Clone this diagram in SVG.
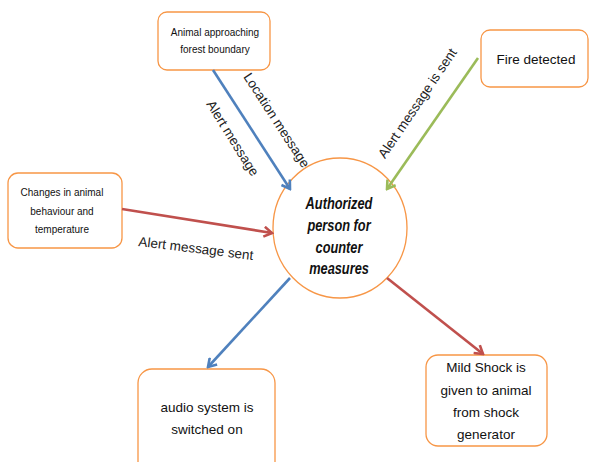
<svg xmlns="http://www.w3.org/2000/svg" width="591" height="462" viewBox="0 0 591 462">
<style>
.box{fill:#fff;stroke:#F79646;stroke-width:1.3}
.t{font-family:"Liberation Sans",Arial,sans-serif;fill:#111;text-anchor:middle}
.s{font-size:10px}
.m{font-size:13.5px}
.ct{font-family:"Liberation Sans",Arial,sans-serif;font-size:16px;font-weight:bold;font-style:italic;fill:#111;text-anchor:middle}
.lbl{font-family:"Liberation Sans",Arial,sans-serif;fill:#222;font-size:13.5px;text-anchor:middle}
.c{fill:none;stroke-width:2.6}
.b{stroke:#4F81BD}.r{stroke:#C0504D}.g{stroke:#9BBB59}
</style>
<defs>
<marker id="ab" viewBox="0 0 12 12" refX="10" refY="6" markerWidth="12" markerHeight="12" markerUnits="userSpaceOnUse" orient="auto"><polyline points="2,1 10,6 2,11" fill="none" stroke="#4F81BD" stroke-width="2.6"/></marker>
<marker id="ar" viewBox="0 0 12 12" refX="10" refY="6" markerWidth="12" markerHeight="12" markerUnits="userSpaceOnUse" orient="auto"><polyline points="2,1 10,6 2,11" fill="none" stroke="#C0504D" stroke-width="2.6"/></marker>
<marker id="ag" viewBox="0 0 12 12" refX="10" refY="6" markerWidth="12" markerHeight="12" markerUnits="userSpaceOnUse" orient="auto"><polyline points="2,1 10,6 2,11" fill="none" stroke="#9BBB59" stroke-width="2.6"/></marker>
</defs>
<rect width="591" height="462" fill="#fff"/>
<g id="n-animal">
<rect class="box" x="158" y="12" width="112" height="58" rx="9"/>
<text class="t s" x="215" y="36">Animal approaching</text>
<text class="t s" x="215" y="53">forest boundary</text>
</g>
<g id="n-changes">
<rect class="box" x="8" y="173" width="114" height="75" rx="10"/>
<text class="t s" x="62" y="196">Changes in animal</text>
<text class="t s" x="62" y="215">behaviour and</text>
<text class="t s" x="62" y="233">temperature</text>
</g>
<g id="n-fire">
<rect class="box" x="481" y="30" width="107" height="57" rx="9"/>
<text class="t m" x="536" y="64">Fire detected</text>
</g>
<g id="n-center">
<ellipse fill="#fff" stroke="#F79646" stroke-width="1.3" cx="340" cy="228" rx="67" ry="70"/>
<text class="ct" transform="translate(339,209) scale(0.8,1)">Authorized</text>
<text class="ct" transform="translate(339,231) scale(0.8,1)">person for</text>
<text class="ct" transform="translate(339,253) scale(0.8,1)">counter</text>
<text class="ct" transform="translate(339,274) scale(0.8,1)">measures</text>
</g>
<g id="n-audio">
<rect class="box" x="138" y="369" width="137" height="110" rx="14"/>
<text class="t m" x="207" y="412">audio system is</text>
<text class="t m" x="207" y="434">switched on</text>
</g>
<g id="n-shock">
<rect class="box" x="426" y="355" width="121" height="91" rx="12"/>
<text class="t m" x="486" y="372">Mild Shock is</text>
<text class="t m" x="486" y="395">given to animal</text>
<text class="t m" x="486" y="417">from shock</text>
<text class="t m" x="486" y="439">generator</text>
</g>
<g id="connectors">
<line class="c b" x1="213" y1="70" x2="290" y2="189" marker-end="url(#ab)"/>
<line class="c r" x1="122" y1="209" x2="272" y2="233" marker-end="url(#ar)"/>
<line class="c g" x1="478" y1="58" x2="387" y2="189" marker-end="url(#ag)"/>
<line class="c b" x1="290" y1="278" x2="208" y2="367" marker-end="url(#ab)"/>
<line class="c r" x1="387" y1="278" x2="483" y2="354" marker-end="url(#ar)"/>
<text class="lbl" transform="translate(233,138) rotate(58)" dy="5">Alert message</text>
<text class="lbl" transform="translate(277,120) rotate(57)" dy="5">Location message</text>
<text class="lbl" transform="translate(196,248) rotate(7)" dy="5">Alert message sent</text>
<text class="lbl" transform="translate(417,103) rotate(-56)" dy="5">Alert message is sent</text>
</g>
</svg>
